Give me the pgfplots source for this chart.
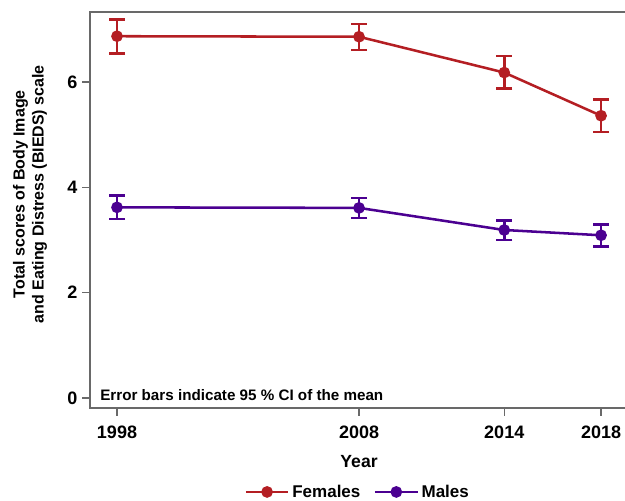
\documentclass[border=0pt]{standalone}
\usepackage{pgfplots}
\pgfplotsset{compat=1.18}
\usepackage{fontspec}
\setmainfont{Liberation Sans}
\definecolor{fem}{RGB}{180,30,35}
\definecolor{mal}{RGB}{75,0,145}
\definecolor{spine}{RGB}{105,105,105}
\pgfplotstableread{
x y ep em
1998 6.87 0.32 0.33
2008 6.86 0.24 0.25
2014 6.18 0.31 0.30
2018 5.36 0.31 0.31
}\females
\pgfplotstableread{
x y ep em
1998 3.62 0.23 0.22
2008 3.61 0.19 0.19
2014 3.19 0.18 0.19
2018 3.09 0.20 0.21
}\males
\begin{document}
\begin{tikzpicture}
\begin{axis}[name=ax, scale only axis, width=402pt, height=297pt,
  xmin=1996.884, xmax=2019.03, ymin=-0.19, ymax=7.33,
  xtick={1998,2008,2014,2018}, ytick={0,2,4,6},
  xticklabel style={/pgf/number format/1000 sep=, yshift=-4pt},
  /pgf/number format/assume math mode=true,
  tick label style={font=\fontsize{13.5}{15}\selectfont\bfseries},
  xtick pos=bottom, ytick pos=left, tick align=outside,
  axis line style={spine, line width=0.9pt},
  major tick length=6pt, tick style={spine, line width=0.9pt},
  xlabel={Year},
  xlabel style={font=\fontsize{13.2}{15}\selectfont\bfseries, at={(axis description cs:0.502,-0.136)}, anchor=center},
  ylabel={Total scores of Body Image\\and Eating Distress (BIEDS) scale},
  ylabel style={font=\fontsize{12}{14.25}\selectfont\bfseries, align=center, at={(axis description cs:-0.112,0.54)}, anchor=center},
  legend columns=2,
  legend style={at={(0.5,-0.212)}, anchor=center, draw=none, font=\fontsize{12.75}{14}\selectfont\bfseries,
    /tikz/every even column/.append style={column sep=8pt}},
  legend image code/.code={\draw[mark repeat=2,mark phase=2,#1] plot coordinates {(0pt,0pt)(16pt,0pt)(32pt,0pt)};},
  clip=false,
]
\addplot[color=fem, line width=1.9pt, mark=*, mark size=3.4pt,
  error bars/.cd, y dir=both, y explicit, error mark=|,
  error bar style={line width=1.9pt},
  error mark options={line width=1.9pt, mark size=6pt}]
  table[x=x, y=y, y error plus=ep, y error minus=em]{\females};
\addlegendentry{Females}
\addplot[color=mal, line width=1.9pt, mark=*, mark size=3.4pt,
  error bars/.cd, y dir=both, y explicit, error mark=|,
  error bar style={line width=1.9pt},
  error mark options={line width=1.9pt, mark size=6pt}]
  table[x=x, y=y, y error plus=ep, y error minus=em]{\males};
\addlegendentry{Males}
\node[anchor=west, inner sep=0pt, font=\fontsize{11.4}{13}\selectfont\bfseries] at (axis cs:1997.3,0.06) {Error bars indicate 95 \% CI of the mean};
\end{axis}
\pgfresetboundingbox
\path ([xshift=-67.5pt,yshift=-69.75pt]ax.south west) rectangle ([xshift=-0.75pt,yshift=9pt]ax.north east);
\end{tikzpicture}
\end{document}
